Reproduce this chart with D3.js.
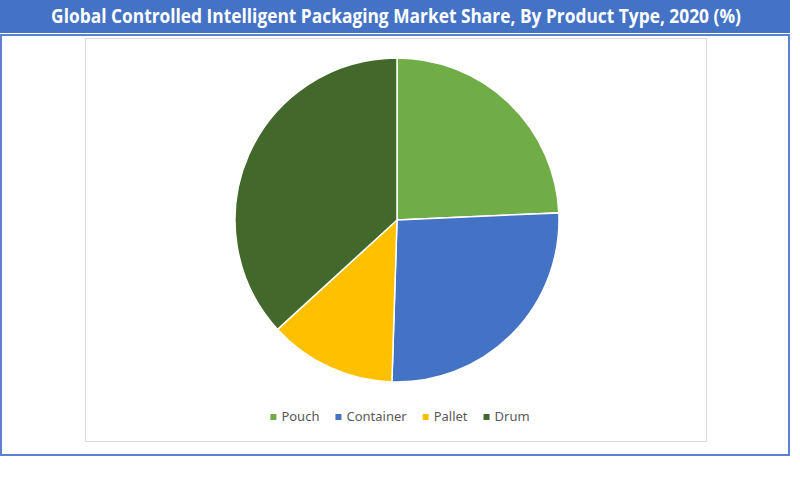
<!DOCTYPE html>
<html>
<head>
<meta charset="utf-8">
<script src="https://cdn.jsdelivr.net/npm/d3@7"></script>
<style>
  body { margin: 0; background: #fff; }
</style>
</head>
<body>
<div id="root"></div>
<script>
const categories = ["Pouch", "Container", "Pallet", "Drum"];
const shares = [24.3, 26.2, 12.7, 36.8];
const colors = ["#70AD47", "#4472C4", "#FFC000", "#43682B"];
const title = "Global Controlled Intelligent Packaging Market Share, By Product Type, 2020 (%)";

const width = 800;
const height = 501;

const svg = d3.select("#root")
  .append("svg")
  .attr("width", width)
  .attr("height", height)
  .attr("viewBox", `0 0 ${width} ${height}`);

// title bar
svg.append("rect")
  .attr("x", 0).attr("y", 0)
  .attr("width", 790).attr("height", 33)
  .attr("fill", "#4472C4");

// title: squeeze horizontally to the narrow width of the original font
const titleText = svg.append("text")
  .attr("text-anchor", "middle")
  .attr("font-family", "'Open Sans', sans-serif")
  .attr("font-weight", "bold")
  .attr("font-size", 19)
  .attr("fill", "#fff")
  .text(title);
const titleW = titleText.node().getComputedTextLength();
const squeeze = Math.min(1, 690 / titleW);
titleText.attr("transform", `translate(396, 23) scale(${squeeze}, 1)`);

// outer frame
svg.append("rect")
  .attr("x", 1).attr("y", 35)
  .attr("width", 788).attr("height", 420)
  .attr("fill", "none")
  .attr("stroke", "#5B82CF")
  .attr("stroke-width", 2);

// chart area border
svg.append("rect")
  .attr("x", 85.5).attr("y", 38.5)
  .attr("width", 621).attr("height", 403)
  .attr("fill", "#fff")
  .attr("stroke", "#D9D9D9")
  .attr("stroke-width", 1);

// pie
const cx = 397, cy = 220, radius = 162;
const color = d3.scaleOrdinal().domain(categories).range(colors);

const pie = d3.pie().sort(null).value((d, i) => shares[i]);
const arc = d3.arc().innerRadius(0).outerRadius(radius);

svg.append("g")
  .attr("transform", `translate(${cx}, ${cy})`)
  .selectAll("path")
  .data(pie(categories))
  .join("path")
  .attr("d", arc)
  .attr("fill", (d) => color(d.data))
  .attr("stroke", "#fff")
  .attr("stroke-width", 1.5);

// legend
const legend = svg.append("g");
const items = legend.selectAll("g")
  .data(categories)
  .join("g");

items.append("rect")
  .attr("width", 6).attr("height", 6)
  .attr("y", -7)
  .attr("fill", (d) => color(d));

items.append("text")
  .attr("x", 11)
  .attr("font-family", "'Noto Sans', sans-serif")
  .attr("font-size", 13)
  .attr("fill", "#595959")
  .text((d) => d);

let xPos = 0;
const gap = 16;
items.each(function () {
  const g = d3.select(this);
  const w = 11 + g.select("text").node().getComputedTextLength();
  g.attr("transform", `translate(${xPos}, 0)`);
  xPos += w + gap;
});
const total = xPos - gap;
legend.attr("transform", `translate(${400 - total / 2}, 421)`);
</script>
</body>
</html>
